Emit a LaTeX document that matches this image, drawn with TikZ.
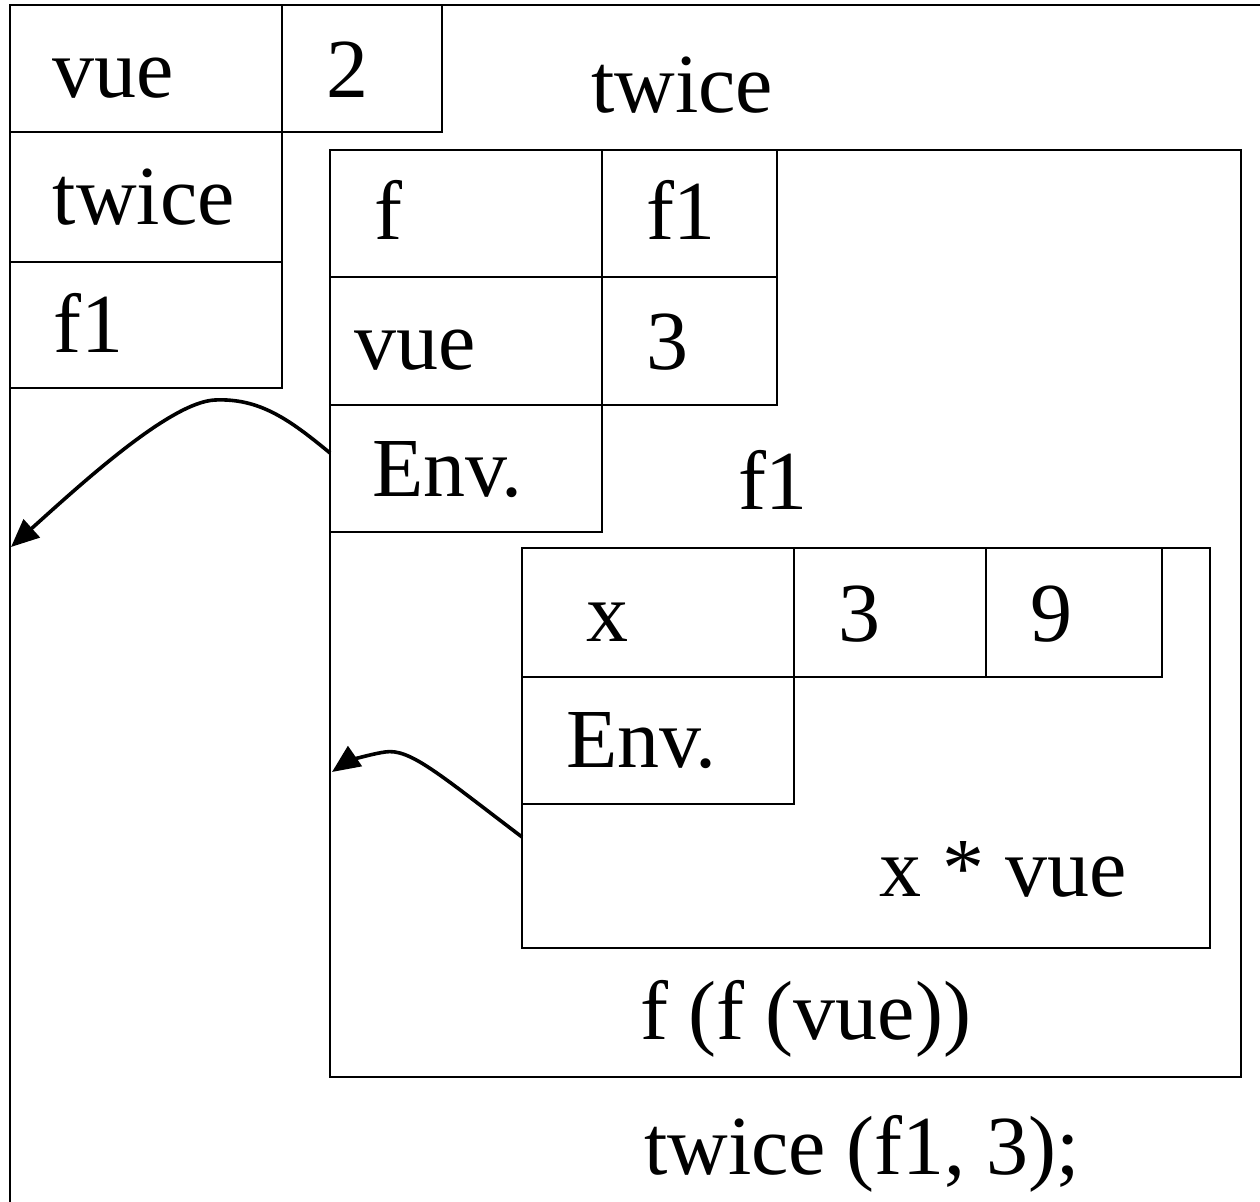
\documentclass[tikz,border=0pt]{standalone}
\usepackage{fontspec}
\setmainfont{Liberation Serif}
\usetikzlibrary{arrows.meta}

\begin{document}
\begin{tikzpicture}[x=0.5pt, y=-0.5pt, line width=1pt,
	every node/.style={anchor=base west, inner sep=0pt, font=\fontsize{42}{48}\selectfont},
	ptr/.style={line width=1.8pt, -{Triangle[length=14pt,width=12pt]}}]
	\clip (0,0) rectangle (1260,1202);
	% outer frame and its cells
	\draw (10,5) rectangle (1300,1240);
	\foreach \xa/\ya/\xb/\yb in {10/5/282/132, 282/5/442/132, 10/132/282/262, 10/262/282/388}
		{\draw (\xa,\ya) rectangle (\xb,\yb);}
	% frame of twice
	\foreach \xa/\ya/\xb/\yb in {330/150/1241/1077, 330/150/602/277, 602/150/777/277,
		330/277/602/405, 602/277/777/405, 330/405/602/532}
		{\draw (\xa,\ya) rectangle (\xb,\yb);}
	% frame of f1
	\foreach \xa/\ya/\xb/\yb in {522/548/1210/948, 522/548/794/677, 794/548/986/677,
		986/548/1162/677, 522/677/794/804}
		{\draw (\xa,\ya) rectangle (\xb,\yb);}

	\node (gVue) at (52,98) {vue};
	\node (gTwo) at (325,98) {2};
	\node (gTwice) at (52,225) {twice};
	\node (gFone) at (53,353) {f1};
	\node (twiceLbl) at (590,113) {twice};
	\node (tF) at (373,240) {f};
	\node (tFone) at (645,240) {f1};
	\node (tVue) at (353,370) {vue};
	\node (tThree) at (645,370) {3};
	\node (tEnv) at (371,497) {Env.};
	\node (foneLbl) at (737,510) {f1};
	\node (fX) at (585,642) {x};
	\node (fThree) at (837,642) {3};
	\node (fNine) at (1029,642) {9};
	\node (fEnv) at (565,768) {Env.};
	\node (fBody) at (878,897) {x * vue};
	\node (tBody) at (639,1040) {f (f (vue))};
	\node (call) at (643,1175) {twice (f1, 3);};

	\coordinate (envA) at (330,453);
	\coordinate (outerA) at (11,547);
	\coordinate (envB) at (522,837);
	\coordinate (twiceB) at (332,772);
	\draw[ptr] (envA) .. controls (290,420) and (260,398) .. (215,400)
		.. controls (170,402) and (80,485) .. (outerA);
	\draw[ptr] (envB) .. controls (440,775) and (410,748) .. (385,752)
		.. controls (365,755) and (345,763) .. (twiceB);
\end{tikzpicture}
\end{document}
